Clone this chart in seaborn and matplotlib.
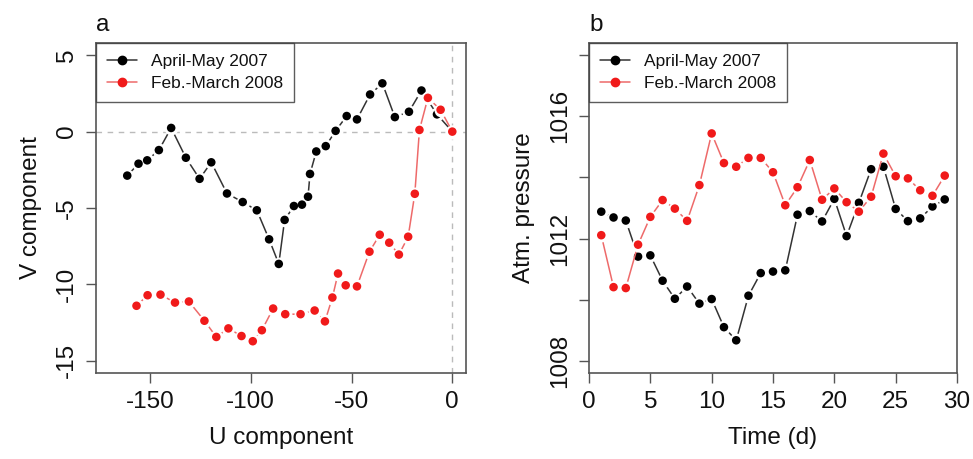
import matplotlib
matplotlib.use("Agg")
import matplotlib.pyplot as plt
import seaborn as sns
import numpy as np
import pandas as pd
from matplotlib.lines import Line2D

sns.set_style("white")
plt.rcParams['font.family'] = ['Liberation Sans', 'DejaVu Sans']
plt.rcParams['axes.unicode_minus'] = False

# ---- data: panel a (progressive vector, cumulative U/V) ----
u_2007 = [-161.3, -155.7, -151.4, -145.6, -139.5, -132.2, -125.4, -119.6, -111.8, -104.0,
          -97.0, -90.9, -86.1, -83.2, -78.6, -74.6, -71.6, -70.6, -67.5, -62.8,
          -57.9, -52.4, -47.3, -40.8, -34.7, -28.5, -21.5, -15.3, -7.6, 0.0]
v_2007 = [-2.88, -2.10, -1.88, -1.21, 0.24, -1.71, -3.09, -2.01, -4.05, -4.61,
          -5.15, -7.05, -8.66, -5.78, -4.87, -4.78, -4.26, -2.77, -1.30, -0.95,
          0.05, 1.02, 0.80, 2.43, 3.16, 0.95, 1.30, 2.69, 1.13, 0.0]
u_2008 = [-156.7, -151.2, -144.8, -137.6, -130.7, -123.0, -117.1, -111.1, -104.6, -99.0,
          -94.5, -88.9, -82.9, -75.3, -68.3, -63.2, -59.5, -56.7, -52.9, -47.3,
          -41.1, -36.0, -31.3, -26.5, -21.9, -18.6, -16.3, -12.1, -5.8, 0.0]
v_2008 = [-11.40, -10.71, -10.67, -11.19, -11.12, -12.38, -13.44, -12.88, -13.38, -13.72,
          -13.00, -11.58, -11.95, -11.95, -11.71, -12.42, -10.86, -9.29, -10.06, -10.13,
          -7.86, -6.75, -7.27, -8.05, -6.88, -4.07, 0.11, 2.21, 1.43, 0.0]

# ---- data: panel b (atmospheric pressure by day) ----
days = list(range(1, 30))
p_2007 = [1012.88, 1012.69, 1012.59, 1011.41, 1011.45, 1010.62, 1010.03, 1010.43, 1009.87, 1010.02,
          1009.10, 1008.67, 1010.13, 1010.87, 1010.92, 1010.96, 1012.78, 1012.90, 1012.56, 1013.30,
          1012.08, 1013.17, 1014.27, 1014.35, 1012.97, 1012.57, 1012.66, 1013.05, 1013.28]
p_2008 = [1012.11, 1010.41, 1010.38, 1011.80, 1012.71, 1013.26, 1012.98, 1012.58, 1013.75, 1015.44,
          1014.47, 1014.35, 1014.64, 1014.64, 1014.17, 1013.09, 1013.68, 1014.57, 1013.27, 1013.64,
          1013.19, 1012.88, 1013.37, 1014.78, 1014.04, 1013.97, 1013.58, 1013.40, 1014.06]

labels = ["April-May 2007", "Feb.-March 2008"]
pt_colors = ["#000000", "#F01A1A"]
ln_colors = ["#333333", "#EE6A6A"]

FS = 17.5
fig = plt.figure(figsize=(9.73, 4.59), dpi=100)
axa = fig.add_axes([96/973, 86/459, 370/973, 330/459])
axb = fig.add_axes([589/973, 86/459, 368/973, 330/459])

def draw(ax, xs_list, ys_list):
    for i, (xs, ys) in enumerate(zip(xs_list, ys_list)):
        df = pd.DataFrame({"x": xs, "y": ys})
        sns.lineplot(data=df, x="x", y="y", sort=False, ax=ax, color=ln_colors[i],
                     lw=1.1, zorder=2 + i)
        # white gaps around points (R type="b")
        ax.plot(xs, ys, ls="none", marker="o", ms=10, mfc="white", mec="none", zorder=2.4 + i)
        sns.scatterplot(data=df, x="x", y="y", ax=ax, color=pt_colors[i], s=38,
                        edgecolor="none", zorder=2.6 + i)

draw(axa, [u_2007, u_2008], [v_2007, v_2008])
axa.axhline(0, color="#BBBBBB", ls=(0, (4, 4)), lw=1, zorder=1)
axa.axvline(0, color="#BBBBBB", ls=(0, (4, 4)), lw=1, zorder=1)
axa.set_xlim(-176.8, 6.8)
axa.set_ylim(-15.8, 5.8)
axa.set_xticks([-150, -100, -50, 0])
axa.set_yticks([-15, -10, -5, 0, 5])
axa.set_xlabel("U component", fontsize=FS, labelpad=10, color="#111111")
axa.set_ylabel("V component", fontsize=FS, labelpad=10, color="#111111")

draw(axb, [days, days], [p_2007, p_2008])
axb.set_xlim(0, 30)
axb.set_ylim(1007.6, 1018.4)
axb.set_xticks([0, 5, 10, 15, 20, 25, 30])
yt = [1008, 1010, 1012, 1014, 1016, 1018]
axb.set_yticks(yt)
axb.set_yticklabels([str(v) if v in (1008, 1012, 1016) else "" for v in yt])
axb.set_xlabel("Time (d)", fontsize=FS, labelpad=10, color="#111111")
axb.set_ylabel("Atm. pressure", fontsize=FS, labelpad=10, color="#111111")

for ax, letter in [(axa, "a"), (axb, "b")]:
    for s in ax.spines.values():
        s.set_color("#555555")
        s.set_linewidth(1.2)
    ax.tick_params(axis="both", direction="out", length=7, width=1, color="#555555",
                   labelsize=FS, pad=6, left=True, bottom=True, labelcolor="#111111")
    for t in ax.get_yticklabels():
        t.set_rotation(90)
        t.set_va("center")
    ax.text(0.0, 1.02, letter, transform=ax.transAxes, ha="left", va="bottom",
            fontsize=FS, color="#111111")
    handles = [Line2D([0], [0], color=ln_colors[i], lw=1.1, marker="o", ms=6,
                      mfc=pt_colors[i], mec=pt_colors[i]) for i in range(2)]
    leg = ax.legend(handles, labels, loc="upper left", bbox_to_anchor=(0, 1),
                    borderaxespad=0, fontsize=12.5, frameon=True, fancybox=False,
                    handlelength=1.7, handletextpad=0.8, borderpad=0.65, labelspacing=0.35)
    for t in leg.get_texts():
        t.set_color("#111111")
    leg.get_frame().set_edgecolor("#333333")
    leg.get_frame().set_linewidth(1.0)
    leg.set_zorder(10)

fig.savefig("out.png", dpi=100)
